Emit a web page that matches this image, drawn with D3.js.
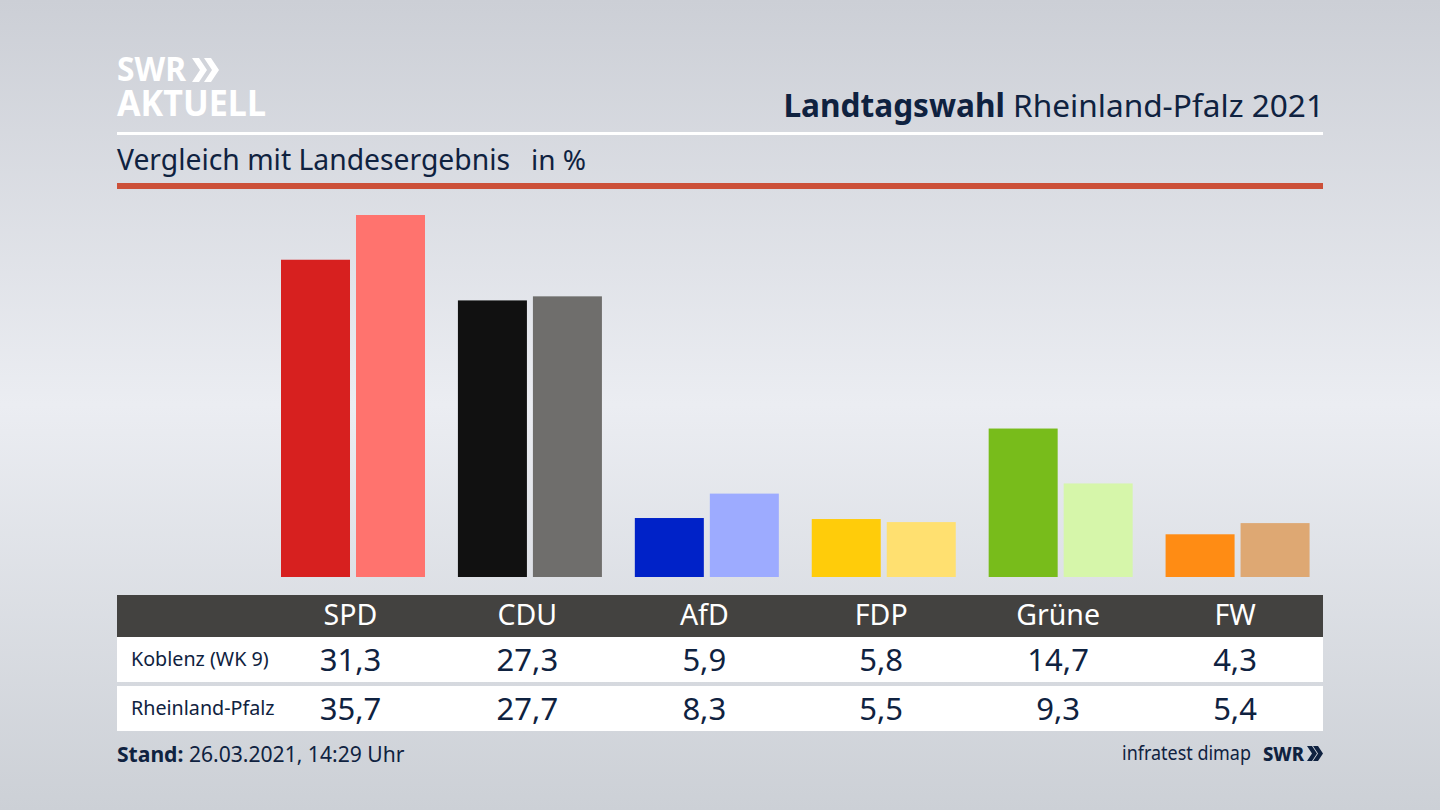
<!DOCTYPE html>
<html>
<head>
<meta charset="utf-8">
<script src="https://cdn.jsdelivr.net/npm/d3@7"></script>
<style>
  html, body { margin: 0; padding: 0; overflow: hidden; }
  text { font-family: "Noto Sans", sans-serif; fill: #0f2240; }
</style>
</head>
<body>
<div id="chart"></div>
<script>
// chart data
var parties = ["SPD", "CDU", "AfD", "FDP", "Grüne", "FW"];
var rowLabels = ["Koblenz (WK 9)", "Rheinland-Pfalz"];
var koblenz = [31.3, 27.3, 5.9, 5.8, 14.7, 4.3];
var landesweit = [35.7, 27.7, 8.3, 5.5, 9.3, 5.4];
var coloursKoblenz = ["#d7201f", "#111111", "#0022c8", "#ffcc0a", "#78bc1b", "#ff8c14"];
var coloursLand = ["#ff736e", "#6f6e6c", "#9dabff", "#ffe070", "#d6f6aa", "#dea873"];

var svgWidth = 1440;
var svgHeight = 810;

var svg = d3.select("#chart")
  .append("svg")
  .attr("width", svgWidth)
  .attr("height", svgHeight)
  .style("display", "block");

// background gradient
var defs = svg.append("defs");
var grad = defs.append("linearGradient")
  .attr("id", "bg")
  .attr("x1", 0).attr("y1", 0).attr("x2", 0).attr("y2", 1);
grad.append("stop").attr("offset", "0%").attr("stop-color", "#cccfd6");
grad.append("stop").attr("offset", "50%").attr("stop-color", "#ebedf2");
grad.append("stop").attr("offset", "100%").attr("stop-color", "#ccd0d6");

svg.append("rect")
  .attr("width", svgWidth)
  .attr("height", svgHeight)
  .attr("fill", "url(#bg)");

// scales
var xScale = d3.scaleBand()
  .domain(parties)
  .range([262, 1323.5]);

var xInner = d3.scaleBand()
  .domain(["wk", "land"])
  .range([19, 163])
  .paddingInner(0.08);

// the bars in the picture start a little above zero
var yScale = d3.scaleLinear()
  .domain([0.1, 35.7])
  .range([577, 215]);
var baseline = yScale.range()[0];

// logo
var logo = svg.append("g");
logo.append("text")
  .attr("x", 117).attr("y", 81)
  .attr("font-size", 34).attr("font-weight", 700)
  .attr("textLength", 69).attr("lengthAdjust", "spacingAndGlyphs")
  .style("fill", "#fff")
  .text("SWR");
logo.append("path")
  .attr("d", "M192,58 l7,0 l8,12 l-8,12 l-7,0 l8,-12 z M204,58 l7,0 l8,12 l-8,12 l-7,0 l8,-12 z")
  .attr("fill", "#fff");
logo.append("text")
  .attr("x", 117).attr("y", 116)
  .attr("font-size", 36).attr("font-weight", 700)
  .attr("textLength", 149).attr("lengthAdjust", "spacingAndGlyphs")
  .style("fill", "#fff")
  .text("AKTUELL");

// title
var title = svg.append("text")
  .attr("x", 1324).attr("y", 117)
  .attr("text-anchor", "end")
  .attr("font-size", 31.6);
title.append("tspan").attr("font-weight", 700).text("Landtagswahl");
title.append("tspan").text(" Rheinland-Pfalz 2021");

svg.append("rect")
  .attr("x", 117).attr("y", 132)
  .attr("width", 1206).attr("height", 3)
  .attr("fill", "#fff");

svg.append("text")
  .attr("x", 117).attr("y", 170)
  .attr("font-size", 28.3)
  .text("Vergleich mit Landesergebnis");
svg.append("text")
  .attr("x", 531).attr("y", 170)
  .attr("font-size", 28)
  .text("in %");

svg.append("rect")
  .attr("x", 117).attr("y", 183)
  .attr("width", 1206).attr("height", 6)
  .attr("fill", "#cc5039");

// bars
var bars = svg.append("g");

bars.selectAll(".wk")
  .data(koblenz)
  .enter()
  .append("rect")
  .attr("class", "wk")
  .attr("x", (d, i) => xScale(parties[i]) + xInner("wk"))
  .attr("y", d => yScale(d))
  .attr("width", xInner.bandwidth())
  .attr("height", d => baseline - yScale(d))
  .attr("fill", (d, i) => coloursKoblenz[i]);

bars.selectAll(".land")
  .data(landesweit)
  .enter()
  .append("rect")
  .attr("class", "land")
  .attr("x", (d, i) => xScale(parties[i]) + xInner("land"))
  .attr("y", d => yScale(d))
  .attr("width", xInner.bandwidth())
  .attr("height", d => baseline - yScale(d))
  .attr("fill", (d, i) => coloursLand[i]);

// table below the bars
svg.append("rect")
  .attr("x", 117).attr("y", 595)
  .attr("width", 1206).attr("height", 42)
  .attr("fill", "#434240");
svg.append("rect")
  .attr("x", 117).attr("y", 637)
  .attr("width", 1206).attr("height", 45)
  .attr("fill", "#fff");
svg.append("rect")
  .attr("x", 117).attr("y", 686)
  .attr("width", 1206).attr("height", 45)
  .attr("fill", "#fff");

var header = svg.append("g")
  .attr("transform", "translate(0, 625)")
  .call(d3.axisBottom(xScale).tickSize(0).tickPadding(0));
header.select(".domain").remove();
header.selectAll("text")
  .attr("y", 0)
  .attr("dy", 0)
  .attr("font-family", null)
  .attr("font-size", 28.5)
  .style("fill", "#fff");

var rows = [koblenz, landesweit];
var rowBase = [670, 719];

rows.forEach(function(values, r) {
  svg.append("text")
    .attr("x", 131).attr("y", rowBase[r] - 4)
    .attr("font-size", 19.7)
    .text(rowLabels[r]);

  svg.selectAll(".val" + r)
    .data(values)
    .enter()
    .append("text")
    .attr("class", "val" + r)
    .attr("x", (d, i) => xScale(parties[i]) + xScale.bandwidth() / 2)
    .attr("y", rowBase[r] + 1)
    .attr("text-anchor", "middle")
    .attr("font-size", 31)
    .text(d => d3.format(".1f")(d).replace(".", ","));
});

// footer
var stand = svg.append("text")
  .attr("x", 117).attr("y", 762)
  .attr("font-size", 21.1);
stand.append("tspan").attr("font-weight", 700).text("Stand:");
stand.append("tspan").text(" 26.03.2021, 14:29 Uhr");

svg.append("text")
  .attr("x", 1122).attr("y", 760)
  .attr("font-size", 20)
  .attr("textLength", 129).attr("lengthAdjust", "spacingAndGlyphs")
  .text("infratest dimap");

svg.append("text")
  .attr("x", 1263).attr("y", 761)
  .attr("font-size", 20).attr("font-weight", 800)
  .attr("textLength", 41).attr("lengthAdjust", "spacingAndGlyphs")
  .text("SWR");
svg.append("path")
  .attr("d", "M1307,746 l5,0 l5,7.5 l-5,7.5 l-5,0 l5,-7.5 z M1313,746 l5,0 l5,7.5 l-5,7.5 l-5,0 l5,-7.5 z")
  .attr("fill", "#0f2240");
</script>
</body>
</html>
